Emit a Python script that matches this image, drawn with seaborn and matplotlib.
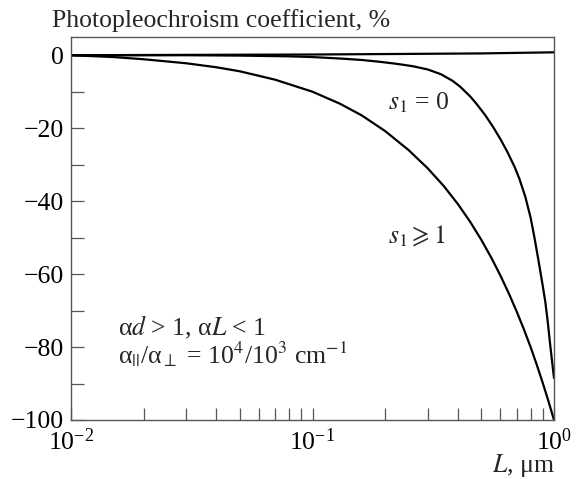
import numpy as np
import pandas as pd
import seaborn as sns
import matplotlib.pyplot as plt
from matplotlib.ticker import LogLocator, MultipleLocator, NullFormatter

# Thickness L (µm) and photopleochroism coefficient (%) for each case
L_flat = [0.01, 0.03, 0.1, 0.3, 0.5, 1.0]
P_flat = [0.0, 0.1, 0.2, 0.4, 0.5, 0.8]

L_s0 = [0.01, 0.03, 0.05, 0.08, 0.1, 0.13, 0.16, 0.19, 0.22, 0.26, 0.3, 0.34,
        0.38, 0.41, 0.45, 0.48, 0.52, 0.56, 0.6, 0.64, 0.69, 0.72, 0.76, 0.8,
        0.83, 0.86, 0.89, 0.92, 0.94, 0.96, 0.98, 1.0]
P_s0 = [0.0, 0.0, -0.1, -0.3, -0.5, -0.9, -1.3, -1.8, -2.3, -3.0, -3.9, -5.2,
        -7.0, -8.7, -11.3, -13.5, -16.5, -19.7, -23.0, -26.4, -30.9, -34.0, -38.7, -44.5,
        -50.0, -55.8, -61.6, -67.5, -72.5, -78.2, -83.5, -88.5]

L_sinf = [0.01, 0.015, 0.02, 0.03, 0.04, 0.05, 0.07, 0.1, 0.13, 0.16, 0.2, 0.25,
          0.3, 0.35, 0.4, 0.45, 0.5, 0.55, 0.6, 0.65, 0.7, 0.75, 0.8, 0.85,
          0.9, 0.95, 1.0]
P_sinf = [0.0, -0.5, -1.1, -2.2, -3.3, -4.4, -6.7, -10.0, -13.3, -16.5, -20.8, -26.0,
          -31.0, -35.9, -40.8, -45.7, -50.6, -55.5, -60.4, -65.3, -70.2, -75.1, -80.0, -85.0,
          -90.0, -95.0, -100.0]

sns.set_theme(style="ticks")
plt.rcParams["font.family"] = ["Liberation Serif", "DejaVu Serif"]
plt.rcParams["mathtext.fontset"] = "stix"
plt.rcParams["axes.unicode_minus"] = True

FS = 18.5
fig = plt.figure(figsize=(5.76, 4.79), dpi=100)
ax = fig.add_axes([71 / 576, 1 - 420 / 479, (554 - 71) / 576, (420 - 37) / 479])

for xs, ys in [(L_flat, P_flat), (L_s0, P_s0), (L_sinf, P_sinf)]:
    df = pd.DataFrame({"L": xs, "P": ys})
    sns.lineplot(data=df, x="L", y="P", ax=ax, color="black", lw=1.6,
                 estimator=None, sort=False)

ax.set_xscale("log")
ax.set_xlim(0.01, 1.0)
ax.set_ylim(-100, 5)
ax.set_xlabel("")
ax.set_ylabel("")

ax.set_yticks([0, -20, -40, -60, -80, -100])
ax.yaxis.set_minor_locator(MultipleLocator(10))
ax.xaxis.set_major_locator(LogLocator(base=10, numticks=10))
ax.xaxis.set_minor_locator(LogLocator(base=10, subs=np.arange(2, 10), numticks=20))
ax.xaxis.set_minor_formatter(NullFormatter())

ax.tick_params(axis="both", which="both", direction="in", length=9, width=0.9,
               color="#555555", labelsize=FS, labelcolor="black",
               top=False, right=False)
ax.tick_params(axis="y", which="both", pad=5)
ax.tick_params(axis="x", which="both", pad=6)
for s in ax.spines.values():
    s.set_visible(True)
    s.set_color("#555555")
    s.set_linewidth(1.0)

fig.text(52 / 576, 1 - 27 / 479, "Photopleochroism coefficient, %",
         fontsize=FS, ha="left", va="baseline")
fig.text(555 / 576, 1 - 472 / 479, r"$L$, μm", fontsize=FS, ha="right", va="baseline")

ax.text(0.205, -14.8, r"$s_1$ = 0", fontsize=FS, ha="left", va="baseline")
ax.text(0.205, -51.5, r"$s_1 \geqslant 1$", fontsize=FS, ha="left", va="baseline")
ax.text(0.0157, -76.7, r"α$d$ > 1, α$L$ < 1", fontsize=FS, ha="left", va="baseline")
ax.text(0.0157, -84.4, r"α$_{||}$/α$_{\perp}$ = 10$^4$/10$^3$ cm$^{-1}$",
        fontsize=FS, ha="left", va="baseline")

fig.savefig("out.png", dpi=100)
